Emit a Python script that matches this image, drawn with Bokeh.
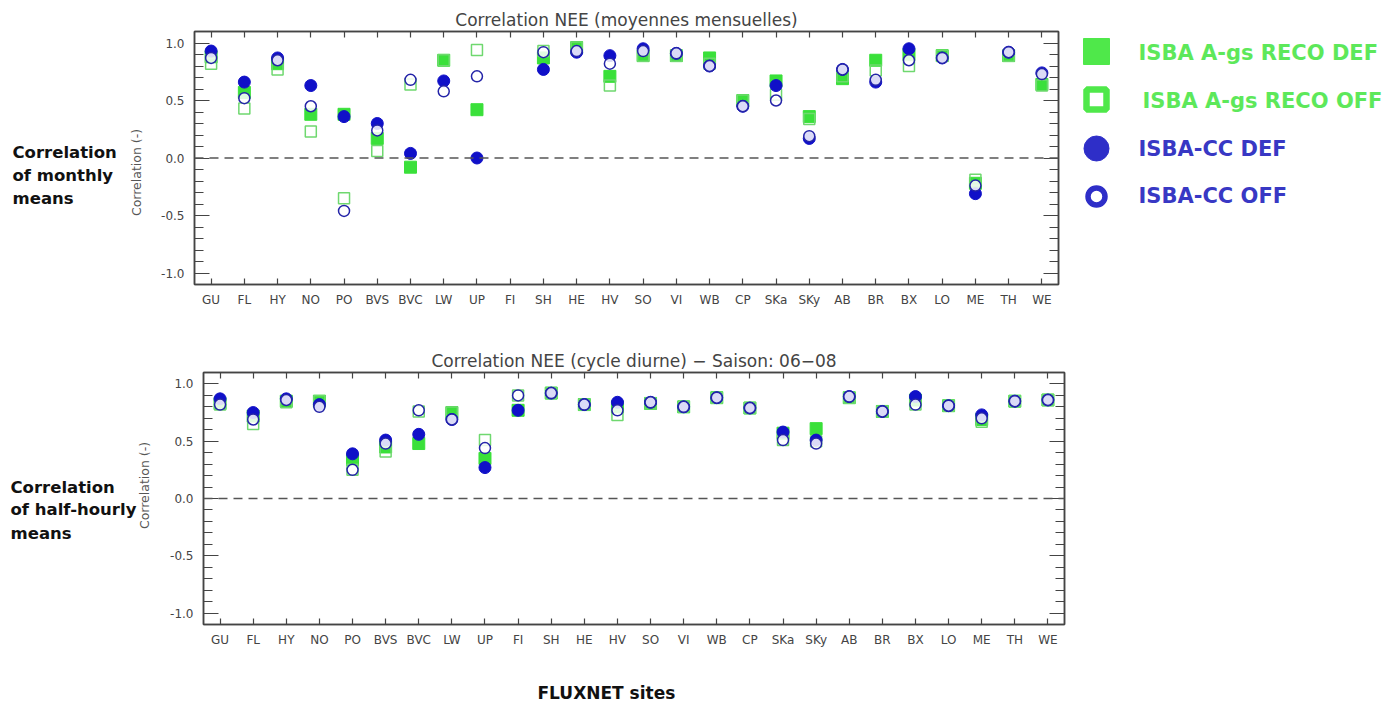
import numpy as np
from bokeh.plotting import figure
from bokeh.models import (ColumnDataSource, FactorRange, Range1d, FixedTicker,
                          LinearAxis, CategoricalAxis, Span, Title, PrintfTickFormatter)
from bokeh.layouts import column, row
from bokeh.embed import file_html
from bokeh.resources import INLINE
from bokeh.core.properties import value

nan = float("nan")

SITES = ["GU", "FL", "HY", "NO", "PO", "BVS", "BVC", "LW", "UP", "FI", "SH", "HE", "HV",
         "SO", "VI", "WB", "CP", "SKa", "SKy", "AB", "BR", "BX", "LO", "ME", "TH", "WE"]

# Monthly means (top panel)
M_AGS_DEF = [0.88, 0.57, 0.82, 0.38, 0.38, 0.17, -0.08, 0.85, 0.42, nan, 0.87, 0.96, 0.71,
             0.89, 0.89, 0.87, 0.50, 0.67, 0.36, 0.69, 0.85, 0.90, 0.89, -0.22, 0.89, 0.64]
M_AGS_OFF = [0.82, 0.43, 0.77, 0.23, -0.35, 0.06, 0.64, 0.85, 0.94, nan, 0.93, 0.96, 0.63,
             0.89, 0.89, 0.82, 0.50, 0.55, 0.34, 0.71, 0.76, 0.80, 0.89, -0.19, 0.89, 0.63]
M_CC_DEF = [0.93, 0.66, 0.87, 0.63, 0.36, 0.30, 0.04, 0.67, 0.00, nan, 0.77, 0.92, 0.89,
            0.95, 0.91, 0.80, 0.45, 0.63, 0.17, 0.77, 0.66, 0.95, 0.87, -0.31, 0.92, 0.74]
M_CC_OFF = [0.87, 0.52, 0.85, 0.45, -0.46, 0.24, 0.68, 0.58, 0.71, nan, 0.92, 0.93, 0.82,
            0.93, 0.91, 0.80, 0.45, 0.50, 0.19, 0.77, 0.68, 0.85, 0.87, -0.24, 0.92, 0.73]

# Half-hourly means, diurnal cycle, season 06-08 (bottom panel)
H_AGS_DEF = [0.83, 0.72, 0.85, 0.85, 0.34, 0.45, 0.48, 0.75, 0.35, 0.77, 0.92, 0.82, 0.80,
             0.83, 0.80, 0.88, 0.79, 0.57, 0.61, 0.88, 0.76, 0.86, 0.81, 0.69, 0.85, 0.86]
H_AGS_OFF = [0.82, 0.65, 0.84, 0.85, 0.25, 0.41, 0.76, 0.75, 0.51, 0.90, 0.92, 0.82, 0.73,
             0.83, 0.80, 0.88, 0.79, 0.51, 0.50, 0.88, 0.76, 0.82, 0.81, 0.67, 0.85, 0.86]
H_CC_DEF = [0.87, 0.75, 0.87, 0.82, 0.39, 0.51, 0.56, 0.69, 0.27, 0.77, 0.92, 0.82, 0.84,
            0.84, 0.80, 0.88, 0.79, 0.58, 0.51, 0.89, 0.76, 0.89, 0.81, 0.73, 0.85, 0.86]
H_CC_OFF = [0.82, 0.69, 0.86, 0.80, 0.25, 0.48, 0.77, 0.69, 0.44, 0.90, 0.92, 0.82, 0.77,
            0.84, 0.80, 0.88, 0.79, 0.51, 0.48, 0.89, 0.76, 0.82, 0.81, 0.70, 0.85, 0.86]

Y_TICKS = [-1.0, -0.5, 0.0, 0.5, 1.0]
Y_MINOR = [round(-1.1 + 0.1 * i, 1) for i in range(23)]

SERIES = ["ISBA A-gs RECO DEF", "ISBA A-gs RECO OFF", "ISBA-CC DEF", "ISBA-CC OFF"]
TITLES = ["Correlation NEE (moyennes mensuelles)",
          "Correlation NEE (cycle diurne) \u2212 Saison: 06\u221208"]
SIDE_TEXT = [["Correlation", "of monthly", "means"],
             ["Correlation", "of half-hourly", "means"]]
Y_LABEL = "Correlation (-)"
X_LABEL = "FLUXNET sites"

FONT = "DejaVu Sans"
AX = "#444444"
GREEN = "#3ae03a"
GREEN_OPEN = "#6fd86f"
BLUE = "#1010c8"
BLUE_OPEN = "#2424a8"


def style_axis(ax, labels=True):
    ax.axis_line_color = AX
    ax.axis_line_width = 1.5
    ax.major_tick_line_color = AX
    ax.minor_tick_line_color = AX
    ax.major_tick_line_width = 1.2
    ax.minor_tick_line_width = 1.2
    ax.major_tick_out = 0
    ax.minor_tick_out = 0
    ax.major_label_text_font = FONT
    ax.major_label_text_color = AX
    ax.major_label_text_font_size = "12px"
    if not labels:
        ax.major_label_text_font_size = "1px"
        ax.major_label_text_color = None
        ax.major_label_standoff = 0


def text_fig(w, h):
    f = figure(width=w, height=h, x_range=Range1d(0, w), y_range=Range1d(h, 0),
               x_axis_type=None, y_axis_type=None, min_border=0, title_location=None,
               toolbar_location=None, output_backend="svg", frame_align=False)
    f.grid.visible = False
    f.outline_line_color = None
    return f


def panel(title, ags_def, ags_off, cc_def, cc_off, fw, fh, left, top, right, bottom):
    src = ColumnDataSource(dict(site=SITES, ags_def=ags_def, ags_off=ags_off,
                                cc_def=cc_def, cc_off=cc_off))
    p = figure(x_range=FactorRange(*SITES), y_range=Range1d(-1.1, 1.1),
               frame_width=fw, frame_height=fh, min_border_left=left, min_border_top=top,
               min_border_right=right, min_border_bottom=bottom, frame_align=False,
               toolbar_location=None, output_backend="svg")
    p.title = Title(text=title, align="center", text_font=FONT, text_font_size="17px",
                    text_font_style="normal", text_color=AX, standoff=4)
    p.x_range.range_padding = 0
    p.grid.visible = False
    p.outline_line_color = AX
    p.outline_line_width = 1.5
    p.background_fill_color = "white"
    p.border_fill_color = "white"

    xa = p.xaxis[0]
    style_axis(xa)
    xa.major_tick_in = 6
    xa.major_label_standoff = 8
    ya = p.yaxis[0]
    ya.ticker = FixedTicker(ticks=Y_TICKS, minor_ticks=Y_MINOR)
    ya.formatter = PrintfTickFormatter(format="%.1f")
    style_axis(ya)
    ya.major_tick_in = 15
    ya.minor_tick_in = 9
    ya.major_label_standoff = 10
    ra = LinearAxis(ticker=FixedTicker(ticks=Y_TICKS, minor_ticks=Y_MINOR))
    style_axis(ra, labels=False)
    ra.major_tick_in = 15
    ra.minor_tick_in = 9
    p.add_layout(ra, "right")
    ta = CategoricalAxis()
    style_axis(ta, labels=False)
    ta.major_tick_in = 6
    p.add_layout(ta, "above")

    p.add_layout(Span(location=0, dimension="width", line_color="#555555",
                      line_width=1.5, line_dash="9 6"))

    p.scatter("site", "ags_def", source=src, marker="square", size=12,
              fill_color=GREEN, line_color=GREEN)
    p.scatter("site", "ags_off", source=src, marker="square", size=11,
              fill_color=None, line_color=GREEN_OPEN, line_width=1.5)
    p.scatter("site", "cc_def", source=src, marker="circle", size=12,
              fill_color=BLUE, line_color=BLUE)
    p.scatter("site", "cc_off", source=src, marker="circle", size=11,
              fill_color="white", fill_alpha=0.85, line_color=BLUE_OPEN, line_width=1.5)
    return p


def side_fig(w, h, lines, x0, baselines, ylab_xy):
    f = text_fig(w, h)
    f.text(x=[x0] * len(lines), y=baselines, text=lines, text_font=value(FONT),
           text_font_style="bold", text_font_size="16.5px", text_color="#111111",
           text_align="left", text_baseline="alphabetic")
    f.text(x=[ylab_xy[0]], y=[ylab_xy[1]], text=[Y_LABEL], angle=np.pi / 2,
           text_font=value(FONT), text_font_size="12.5px", text_color="#555555",
           text_align="center", text_baseline="middle")
    return f


H1 = 324
H2 = 340
LEFT_W = 152

top = panel(TITLES[0], M_AGS_DEF, M_AGS_OFF, M_CC_DEF, M_CC_OFF,
            fw=864, fh=253, left=194 - LEFT_W, top=31, right=12, bottom=H1 - 31 - 253)
bot = panel(TITLES[1], H_AGS_DEF, H_AGS_OFF, H_CC_DEF, H_CC_OFF,
            fw=861, fh=252, left=203 - LEFT_W, top=48, right=10, bottom=H2 - 48 - 252)

sideA = side_fig(LEFT_W, H1, SIDE_TEXT[0], 12, [152, 175, 198], (136, 172))
sideB = side_fig(LEFT_W, H2, SIDE_TEXT[1], 10, [163, 185, 209], (144, 161))

LEG_W = 318
leg = text_fig(LEG_W, H1)
LG_GREEN = "#4fe84a"
LG_BLUE = "#2e2ec8"
leg.scatter([26], [51], marker="square", size=26, fill_color=LG_GREEN, line_color=LG_GREEN)
leg.scatter([26], [99], marker="square", size=20, fill_color="white", line_color=LG_GREEN,
            line_width=6.5)
leg.scatter([26], [148], marker="circle", size=25, fill_color=LG_BLUE, line_color=LG_BLUE)
leg.scatter([26], [196], marker="circle", size=17, fill_color="white", line_color=LG_BLUE,
            line_width=5.5)
leg_src = ColumnDataSource(dict(x=[68, 72, 68, 68], y=[52, 100, 148, 195], t=SERIES,
                                c=["#5de85a", "#5de85a", "#3838c4", "#3838c4"]))
leg.text("x", "y", text="t", source=leg_src, text_color="c", text_font=value(FONT),
         text_font_style="bold", text_font_size="21px", text_baseline="middle",
         text_align="left")

FOOT_H = 703 - H1 - H2
foot = text_fig(1383, FOOT_H)
foot.text(x=[537], y=[FOOT_H - 11], text=[X_LABEL], text_font=value(FONT),
          text_font_style="bold", text_font_size="17px", text_color="#111111",
          text_align="left", text_baseline="alphabetic")

layout = column(row(sideA, top, leg), row(sideB, bot), foot)
open("out.html", "w").write(file_html(layout, INLINE))
